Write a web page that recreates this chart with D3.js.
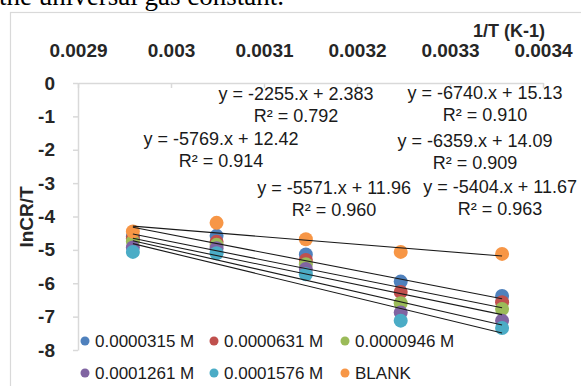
<!DOCTYPE html>
<html>
<head>
<meta charset="utf-8">
<script src="https://cdn.jsdelivr.net/npm/d3@7/dist/d3.min.js"></script>
<style>
  html, body { margin: 0; padding: 0; background: #fff; overflow: hidden; }
  svg { display: block; font-family: "Liberation Sans", Arial, sans-serif; }
</style>
</head>
<body>
<svg id="chart" width="581" height="386"></svg>
<script>
// Reciprocal temperature (1/T, K^-1) for 338, 328, 318, 308 and 298 K
const invT = [0.002959, 0.003049, 0.003145, 0.003247, 0.003356];

// Series names (inhibitor concentration)
const seriesNames = ["0.0000315 M", "0.0000631 M", "0.0000946 M", "0.0001261 M", "0.0001576 M", "BLANK"];

// ln(CR/T) for each series at each temperature
const s0000315 = [-4.60, -4.58, -5.14, -5.95, -6.38];
const s0000631 = [-4.66, -4.76, -5.30, -6.26, -6.57];
const s0000946 = [-4.75, -4.85, -5.43, -6.60, -6.77];
const s0001261 = [-4.93, -4.95, -5.57, -6.88, -7.12];
const s0001576 = [-5.06, -5.10, -5.73, -7.12, -7.34];
const sBlank   = [-4.45, -4.19, -4.68, -5.06, -5.12];
const seriesValues = [s0000315, s0000631, s0000946, s0001261, s0001576, sBlank];

// Linear trendlines: slope, intercept and R² for each series
const slopes = [-5404, -5571, -5769, -6359, -6740, -2255];
const intercepts = [11.67, 11.96, 12.42, 14.09, 15.13, 2.383];
const rSquared = ["0.963", "0.960", "0.914", "0.909", "0.910", "0.792"];

// Axis ticks
const xTicks = [0.0029, 0.0030, 0.0031, 0.0032, 0.0033, 0.0034];
const xTickLabels = ["0.0029", "0.003", "0.0031", "0.0032", "0.0033", "0.0034"];
const yTicks = [0, -1, -2, -3, -4, -5, -6, -7, -8];

// Series colours
const colors = ["#4F81BD", "#C0504D", "#9BBB59", "#8064A2", "#4BACC6", "#F79646"];

// Where each trendline label sits (centre of the equation line, data units)
const labelAt = [
  [0.0033538, -3.11],
  [0.0031753, -3.14],
  [0.0030538, -1.65],
  [0.0033269, -1.71],
  [0.0033376, -0.27],
  [0.0031344, -0.30]
];

const svg = d3.select("#chart");

// Caption line above the chart, only its lower part shows
svg.append("text")
  .attr("x", -1).attr("y", 5)
  .style("font-family", "'Liberation Serif', 'Times New Roman', serif")
  .style("font-size", "27px")
  .attr("fill", "#000")
  .text("the universal gas constant.");

// Chart area border
svg.append("rect")
  .attr("x", 10.5).attr("y", 12.5)
  .attr("width", 600).attr("height", 400)
  .attr("fill", "#fff")
  .attr("stroke", "#d9d9d9").attr("stroke-width", 1.2);

const x = d3.scaleLinear().domain([0.0029, 0.0034]).range([78, 543]);
const y = d3.scaleLinear().domain([-8, 0]).range([350, 83]);

// X axis along y = 0, labels above
const xAxis = svg.append("g")
  .attr("transform", `translate(0,${y(0)})`)
  .call(d3.axisTop(x)
    .tickValues(xTicks)
    .tickFormat((d, i) => xTickLabels[i])
    .tickSizeInner(-5)
    .tickSizeOuter(0)
    .tickPadding(26));

// Y axis at the left edge
const yAxis = svg.append("g")
  .attr("transform", `translate(${x(0.0029)},0)`)
  .call(d3.axisLeft(y)
    .tickValues(yTicks)
    .tickFormat(d => String(d))
    .tickSizeInner(5)
    .tickSizeOuter(0)
    .tickPadding(18));

[xAxis, yAxis].forEach(g => {
  g.select(".domain").attr("stroke", "#d9d9d9").attr("stroke-width", 1.5);
  g.selectAll(".tick line").attr("stroke", "#d9d9d9").attr("stroke-width", 1.5);
  g.selectAll(".tick text")
    .attr("fill", "#262626")
    .style("font-family", "'Liberation Sans', Arial, sans-serif")
    .style("font-size", "19px")
    .style("font-weight", "bold");
});

// Axis titles
svg.append("text")
  .attr("x", 509).attr("y", 37)
  .attr("text-anchor", "middle")
  .attr("fill", "#262626")
  .style("font-size", "18px").style("font-weight", "bold")
  .text("1/T (K-1)");

svg.append("text")
  .attr("transform", "translate(33,217) rotate(-90)")
  .attr("text-anchor", "middle")
  .attr("fill", "#262626")
  .style("font-size", "19px").style("font-weight", "bold")
  .text("lnCR/T");

// Data markers
seriesValues.forEach((vals, si) => {
  svg.append("g").selectAll("circle")
    .data(vals)
    .join("circle")
    .attr("cx", (d, i) => x(invT[i]))
    .attr("cy", d => y(d))
    .attr("r", 7)
    .attr("fill", colors[si]);
});

// Trendlines across the measured range
const xMin = d3.min(invT), xMax = d3.max(invT);
const line = d3.line().x(d => x(d[0])).y(d => y(d[1]));
slopes.forEach((m, si) => {
  const b = intercepts[si];
  svg.append("path")
    .attr("d", line([[xMin, m * xMin + b], [xMax, m * xMax + b]]))
    .attr("fill", "none")
    .attr("stroke", "#1a1a1a")
    .attr("stroke-width", 1.1);
});

// Trendline equations and R²
slopes.forEach((m, si) => {
  const cx = x(labelAt[si][0]);
  const cy = y(labelAt[si][1]);
  const g = svg.append("g")
    .attr("fill", "#1a1a1a")
    .attr("text-anchor", "middle")
    .style("font-size", "18px");
  g.append("text")
    .attr("x", cx).attr("y", cy + 6.5)
    .text(`y = ${m}.x + ${intercepts[si]}`);
  g.append("text")
    .attr("x", cx).attr("y", cy + 28.5)
    .text(`R² = ${rSquared[si]}`);
});

// Legend, two rows of three
const legend = svg.append("g").style("font-size", "17px");
const legendX = [85, 214, 345];
const legendY = [341, 373];
seriesNames.forEach((name, i) => {
  const lx = legendX[i % 3], ly = legendY[Math.floor(i / 3)];
  legend.append("circle")
    .attr("cx", lx).attr("cy", ly).attr("r", 4.5)
    .attr("fill", colors[i]);
  legend.append("text")
    .attr("x", lx + 10).attr("y", ly + 6)
    .attr("fill", "#1a1a1a")
    .text(name);
});
</script>
</body>
</html>
